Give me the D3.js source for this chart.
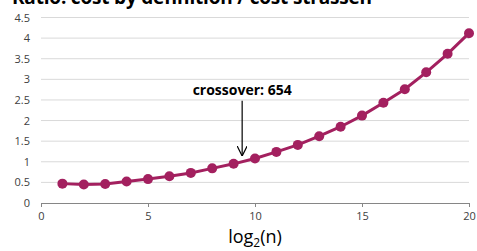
<!DOCTYPE html>
<html>
<head>
<meta charset="utf-8">
<script src="https://d3js.org/d3.v7.min.js"></script>
<style>
  body { margin: 0; background: #fff; }
  svg { font-family: "Open Sans", "Noto Sans", sans-serif; }
</style>
</head>
<body>
<script>
// log2(n) values and ratio cost-by-definition / cost-strassen
var logN = [1, 2, 3, 4, 5, 6, 7, 8, 9, 10, 11, 12, 13, 14, 15, 16, 17, 18, 19, 20];
var ratio = [0.47, 0.45, 0.46, 0.52, 0.58, 0.65, 0.73, 0.84, 0.95, 1.08, 1.24, 1.41, 1.62, 1.85, 2.12, 2.43, 2.76, 3.17, 3.62, 4.12];
var yTicks = [0, 0.5, 1, 1.5, 2, 2.5, 3, 3.5, 4, 4.5];
var xTicks = [0, 5, 10, 15, 20];
var crossover = 654;

var width = 477, height = 251;
var svg = d3.select("body").append("svg")
  .attr("width", width)
  .attr("height", height);

var x = d3.scaleLinear().domain([0, 20]).range([41, 469]);
var y = d3.scaleLinear().domain([0, 4.5]).range([203, 17.5]);

// title (cut off at the top, as in the original)
svg.append("text")
  .attr("x", 12).attr("y", 4)
  .attr("textLength", 360)
  .style("font-size", "19px").style("font-weight", "bold")
  .style("fill", "#000")
  .text("Ratio: cost by definition / cost strassen");

// gridlines
svg.append("g").selectAll("line").data(yTicks.slice(1)).enter().append("line")
  .attr("x1", x(0)).attr("x2", x(20))
  .attr("y1", function(d) { return y(d); })
  .attr("y2", function(d) { return y(d); })
  .attr("stroke", "#d9d9d9").attr("stroke-width", 1);

// y axis labels
var yAxis = svg.append("g").attr("transform", "translate(" + x(0) + ",0)")
  .call(d3.axisLeft(y).tickValues(yTicks).tickSize(0).tickPadding(11).tickFormat(d3.format("")));
yAxis.select(".domain").remove();
yAxis.selectAll("text").style("font-size", "11px").style("fill", "#404040").style("font-family", "'Open Sans', sans-serif");

// x axis
var xAxis = svg.append("g").attr("transform", "translate(0," + y(0) + ")")
  .call(d3.axisBottom(x).tickValues(xTicks).tickSize(4).tickSizeOuter(0).tickPadding(5));
xAxis.select(".domain").attr("stroke", "#868686");
xAxis.selectAll(".tick line").attr("stroke", "#868686");
xAxis.selectAll("text").style("font-size", "11px").style("fill", "#404040").style("font-family", "'Open Sans', sans-serif");

// x axis title
var xt = svg.append("text")
  .attr("x", x(10)).attr("y", 243)
  .attr("text-anchor", "middle")
  .style("font-size", "18px").style("fill", "#000");
xt.append("tspan").text("log");
xt.append("tspan").attr("dy", 4).style("font-size", "12px").text("2");
xt.append("tspan").attr("dy", -4).text("(n)");

// series
var data = logN.map(function(d, i) { return { x: d, y: ratio[i] }; });
var color = "#a3205f";
svg.append("path").datum(data)
  .attr("fill", "none").attr("stroke", color).attr("stroke-width", 3)
  .attr("d", d3.line().x(function(d) { return x(d.x); }).y(function(d) { return y(d.y); }));
svg.append("g").selectAll("circle").data(data).enter().append("circle")
  .attr("cx", function(d) { return x(d.x); })
  .attr("cy", function(d) { return y(d.y); })
  .attr("r", 5)
  .attr("fill", color);

// crossover annotation
var cx = x(Math.log2(crossover)) + 1;
svg.append("defs").append("marker")
  .attr("id", "arrow").attr("viewBox", "0 0 10 10")
  .attr("refX", 10).attr("refY", 5)
  .attr("markerWidth", 10).attr("markerHeight", 10)
  .attr("markerUnits", "userSpaceOnUse")
  .attr("orient", "auto")
  .append("path").attr("d", "M0,0 L10,5 L0,10")
  .attr("fill", "none").attr("stroke", "#000").attr("stroke-width", 1.2);
svg.append("line")
  .attr("x1", cx).attr("x2", cx)
  .attr("y1", y(2.48)).attr("y2", y(1.14))
  .attr("stroke", "#000").attr("stroke-width", 1.2)
  .attr("marker-end", "url(#arrow)");
svg.append("text")
  .attr("x", cx).attr("y", 95)
  .attr("text-anchor", "middle")
  .style("font-size", "14px").style("font-weight", "bold").style("fill", "#000")
  .text("crossover: " + crossover);
</script>
</body>
</html>
